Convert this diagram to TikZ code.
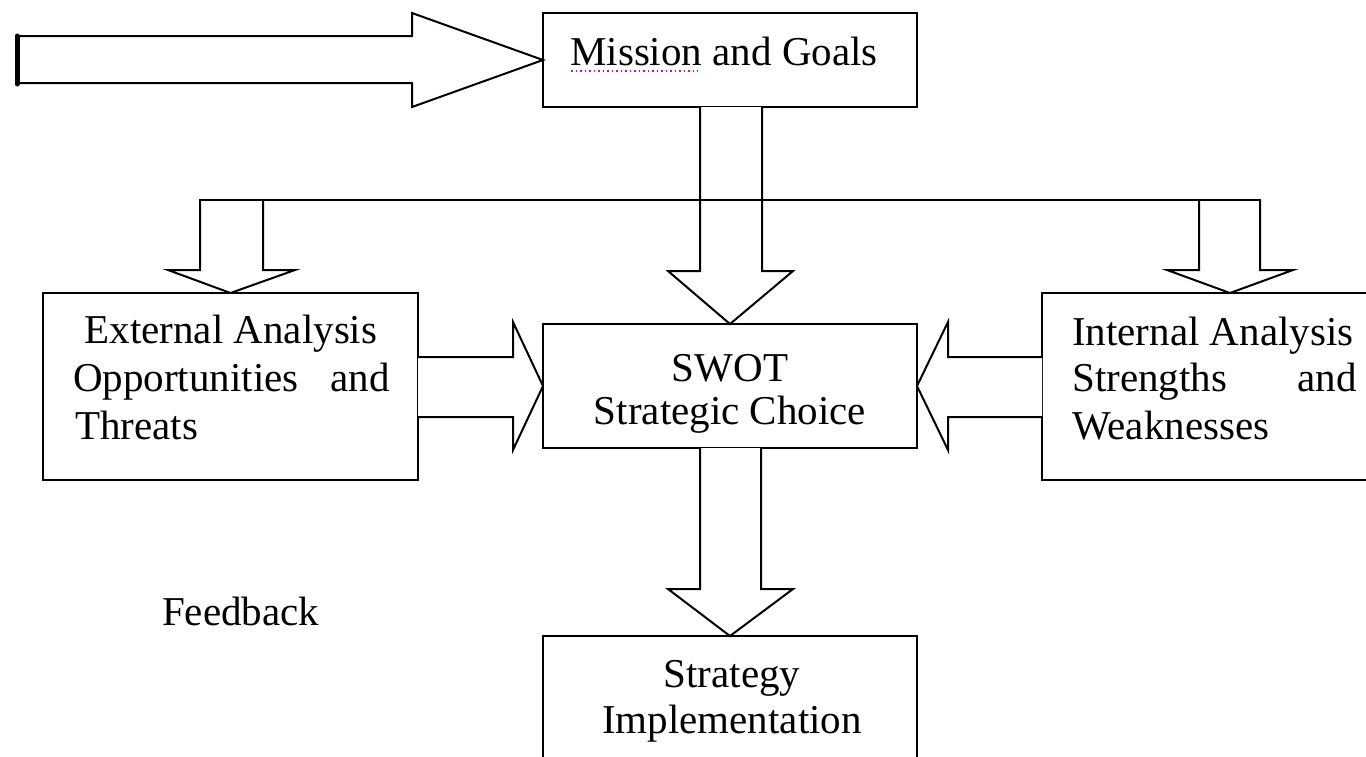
\documentclass[tikz,border=0pt]{standalone}
\usepackage{fontspec}
\setmainfont{Liberation Serif}
\begin{document}
\begin{tikzpicture}[x=1pt,y=-1pt,
  box/.style={draw=black,line width=2pt,fill=white,inner sep=0pt,outer sep=0pt},
  blockarrow/.style={draw=black,line width=2pt,line join=miter,fill=white},
  lbl/.style={inner sep=0pt,font=\fontsize{41pt}{48pt}\selectfont}]
  \useasboundingbox (0,0) rectangle (1366,756);
  \clip (0,0) rectangle (1366,756);
  \fill[white] (0,0) rectangle (1366,756);

  % boxes
  \node[box,minimum width=374pt,minimum height=94pt]  (mission) at (730,60) {};
  \node[box,minimum width=374pt,minimum height=124pt] (swot)    at (730,386) {};
  \node[box,minimum width=375pt,minimum height=187pt] (ext)     at (230.5,386.5) {};
  \node[box,minimum width=358pt,minimum height=187pt] (int)     at (1221,386.5) {};
  \node[box,minimum width=374pt,minimum height=154pt] (impl)    at (730,713) {};

  % input arrow into Mission and Goals
  \coordinate (inend) at (17,59.5);
  \draw[blockarrow] (17,36) -- (412,36) -- (412,13) -- (mission.west)
        -- (412,107) -- (412,83) -- (17,83);
  \draw[line width=5pt,line cap=round] (17,36) -- (inend) -- (17,84);

  % Mission -> SWOT
  \draw[blockarrow] (700,107) -- (700,271) -- (668,271) -- (swot.north)
        -- (793,271) -- (762,271) -- (762,107);

  % branches down to the two analysis boxes
  \draw[blockarrow] (200,200) -- (200,270) -- (168,270) -- (ext.north)
        -- (295,270) -- (263,270) -- (263,200);
  \draw[blockarrow] (1199,200) -- (1199,270) -- (1167,270) -- (1230,293)
        -- (1293,270) -- (1260,270) -- (1260,200);
  % the bar joining them, crossing the central shaft
  \draw[line width=2pt,line cap=rect] (200,200) -- (1260,200);

  % analyses -> SWOT
  \draw[blockarrow] (ext.east |- 0,357) -- (513,357) -- (513,322) -- (swot.west)
        -- (513,450) -- (513,417) -- (ext.east |- 0,417);
  \draw[blockarrow] (int.west |- 0,357) -- (948,357) -- (948,322) -- (swot.east)
        -- (948,450) -- (948,417) -- (int.west |- 0,417);

  % SWOT -> implementation
  \draw[blockarrow] (700,448) -- (700,589) -- (668,589) -- (impl.north)
        -- (793,589) -- (761,589) -- (761,448);

  % texts
  \node[lbl,anchor=base west] (tmission) at (570,65) {Mission and Goals};
  \draw[magenta,line width=1.5pt,dash pattern=on 1.5pt off 3pt] (571,71) -- (698,71);

  \node[lbl,anchor=base] (tswot1) at (730,381) {SWOT};
  \node[lbl,anchor=base] (tswot2) at (730,424) {Strategic Choice};

  \node[lbl,anchor=base] (text1) at (231,343) {External Analysis};
  \node[lbl,anchor=base west] (text2) at (73,391) {Opportunities};
  \node[lbl,anchor=base east] (text3) at (390,391) {and};
  \node[lbl,anchor=base west] (text4) at (75,439) {Threats};

  \node[lbl,anchor=base west] (tint1) at (1072,345) {Internal Analysis};
  \node[lbl,anchor=base west] (tint2) at (1072,391) {Strengths};
  \node[lbl,anchor=base east] (tint3) at (1357,391) {and};
  \node[lbl,anchor=base west] (tint4) at (1072,439) {Weaknesses};

  \node[lbl,anchor=base] (timpl1) at (732,687) {Strategy};
  \node[lbl,anchor=base] (timpl2) at (732,733) {Implementation};

  \node[lbl,anchor=base west] (feedback) at (162,625) {Feedback};
\end{tikzpicture}
\end{document}
